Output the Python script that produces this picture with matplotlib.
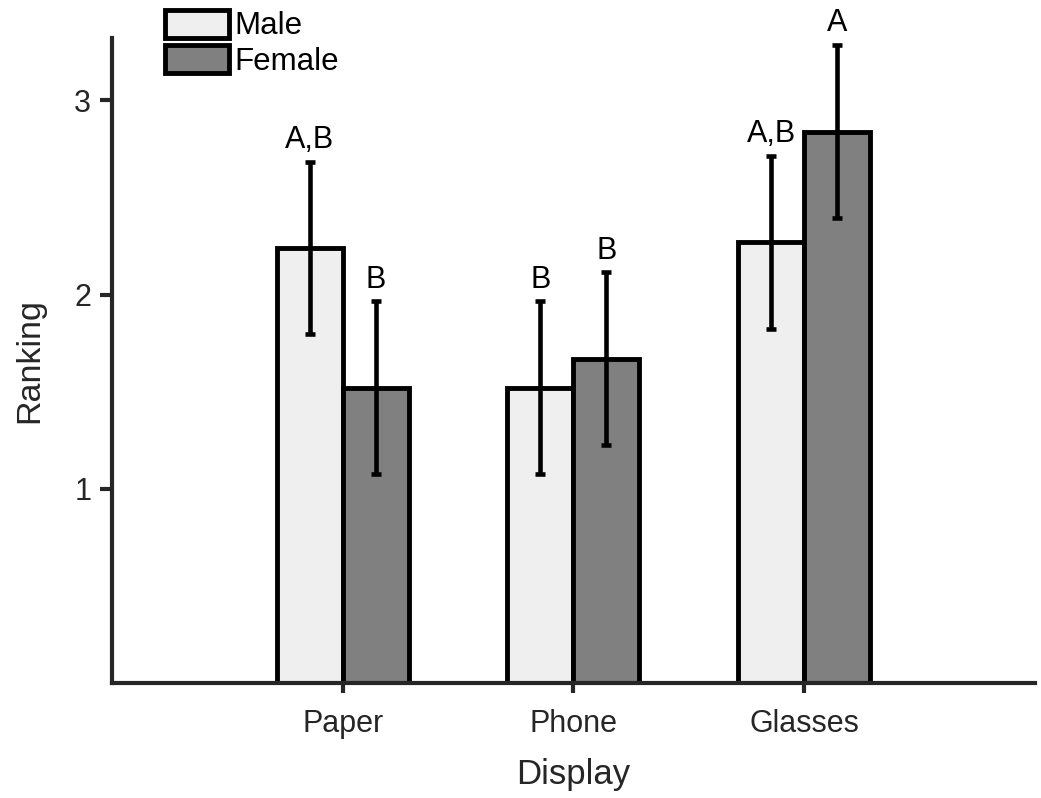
import matplotlib
matplotlib.use("Agg")
import matplotlib.pyplot as plt
import numpy as np

plt.rcParams['font.family'] = ['Liberation Sans', 'DejaVu Sans']

categories = ["Paper", "Phone", "Glasses"]
male_mean = [2.24, 1.52, 2.27]
female_mean = [1.52, 1.67, 2.84]
male_err = [0.445, 0.445, 0.445]
female_err = [0.445, 0.445, 0.445]
male_letters = ["A,B", "B", "A,B"]
female_letters = ["B", "B", "A"]

axis_color = "#262626"
fig = plt.figure(figsize=(10.41, 7.98), dpi=100)
ax = fig.add_axes([0.1076, 0.144, 0.8864, 0.808])

x = np.arange(1, len(categories) + 1)
w = 0.286

ax.bar(x - w / 2, male_mean, w, color="#efefef", edgecolor="black", linewidth=3.5, label="Male", zorder=2)
ax.bar(x + w / 2, female_mean, w, color="#808080", edgecolor="black", linewidth=3.5, label="Female", zorder=2)
ax.errorbar(x - w / 2, male_mean, yerr=male_err, fmt="none", ecolor="black", elinewidth=3.3, capsize=3.5, capthick=3.3, zorder=3)
ax.errorbar(x + w / 2, female_mean, yerr=female_err, fmt="none", ecolor="black", elinewidth=3.3, capsize=3.5, capthick=3.3, zorder=3)

for xi, m, e, t in zip(x - w / 2, male_mean, male_err, male_letters):
    ax.text(xi, m + e + 0.035, t, ha="center", va="bottom", fontsize=22)
for xi, m, e, t in zip(x + w / 2, female_mean, female_err, female_letters):
    ax.text(xi, m + e + 0.035, t, ha="center", va="bottom", fontsize=22)

ax.set_xlim(0, 4)
ax.set_ylim(0, 3.32)
ax.set_xticks(x)
ax.set_xticklabels(categories)
ax.set_yticks([1, 2, 3])
ax.tick_params(axis="both", labelsize=22, colors=axis_color, width=3, direction="out")
ax.tick_params(axis="x", pad=11, length=7.5)
ax.tick_params(axis="y", pad=6, length=9)
for s in ["top", "right"]:
    ax.spines[s].set_visible(False)
for s in ["left", "bottom"]:
    ax.spines[s].set_linewidth(3)
    ax.spines[s].set_color(axis_color)

ax.set_xlabel("Display", fontsize=25, color=axis_color, labelpad=14)
ax.set_ylabel("Ranking", fontsize=24.5, color=axis_color, labelpad=21)

leg = ax.legend(loc="upper left", bbox_to_anchor=(0.1585, 0.988), bbox_transform=fig.transFigure,
                frameon=False, fontsize=22.5, handlelength=2.05, handleheight=1.0,
                handletextpad=0.18, labelspacing=0.12, borderaxespad=0, borderpad=0)

fig.savefig("out.png", dpi=100)
